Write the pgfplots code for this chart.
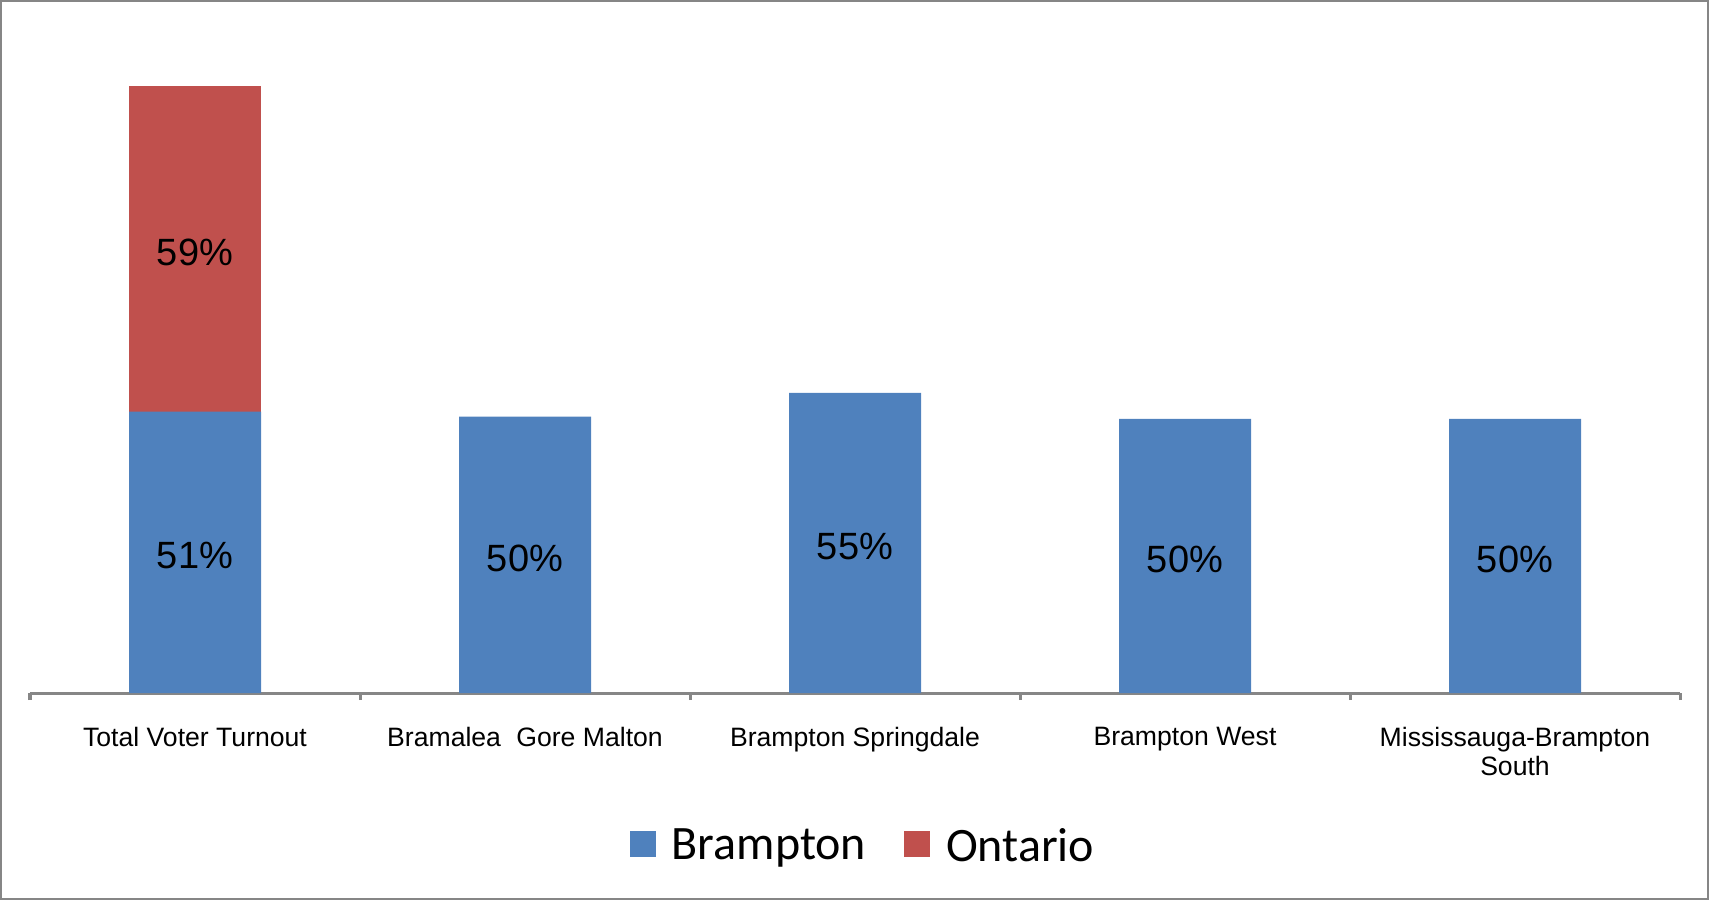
\documentclass[border=0pt]{standalone}
\usepackage{pgfplots}
\pgfplotsset{compat=1.18}
\usepackage{fontspec}
\setmainfont{Liberation Sans}
\newfontfamily\calibri{Carlito}
\definecolor{bblue}{HTML}{4F81BD}
\definecolor{ored}{HTML}{C0504D}
\definecolor{axgray}{HTML}{868686}
\begin{document}
\begin{tikzpicture}
\path[use as bounding box] (-15pt,-103.5pt) rectangle (839.5pt,346.5pt);
\draw[axgray, line width=1.2pt] (-14.4pt,-102.9pt) rectangle (838.9pt,345.9pt);
\begin{axis}[
  at={(0,0)}, anchor=south west,
  scale only axis, width=825pt, height=335.5pt,
  xmin=-0.5, xmax=4.5, ymin=0, ymax=121.6,
  axis x line*=bottom, axis y line=none,
  axis line style={-, axgray, line width=1.5pt},
  xtick={0,1,2,3,4},
  xticklabels={Total Voter Turnout, Bramalea\hspace{0.3em} Gore Malton, Brampton Springdale, Brampton West, {Mississauga-Brampton\\South}},
  major tick length=0pt,
  minor xtick={-0.5,0.5,1.5,2.5,3.5,4.5},
  minor tick length=3.5pt,
  tick align=outside,
  minor tick style={axgray, line width=1.5pt},
  xticklabel style={font=\fontsize{13.3}{14.5}\selectfont, align=center, yshift=-13.6pt},
  ybar stacked, bar width=66pt,
  nodes near coords={\pgfplotspointmeta\%},
  point meta=explicit symbolic,
  every node near coord/.append style={font=\fontsize{19}{22}\selectfont, black, anchor=center, yshift=-1.6pt},
  legend columns=2,
  legend style={draw=none, at={(0.5055,-0.228)}, anchor=center, font=\calibri\fontsize{24}{27}\selectfont, /tikz/every even column/.append style={column sep=17pt}},
  legend image code/.code={\fill[#1,draw=none] (0pt,-5.6pt) rectangle (13pt,7.4pt); \path (19pt,0pt);},
]
\addplot[fill=bblue, draw=none] table[meta=lab] {
x y lab
0 51.0 51
1 50.1 50
2 54.4 55
3 49.7 50
4 49.7 50
};
\addlegendentry{Brampton}
\addplot[fill=ored, draw=none] table[meta=lab] {
x y lab
0 59.0 59
};
\addlegendentry{Ontario}
\end{axis}
\end{tikzpicture}
\end{document}
